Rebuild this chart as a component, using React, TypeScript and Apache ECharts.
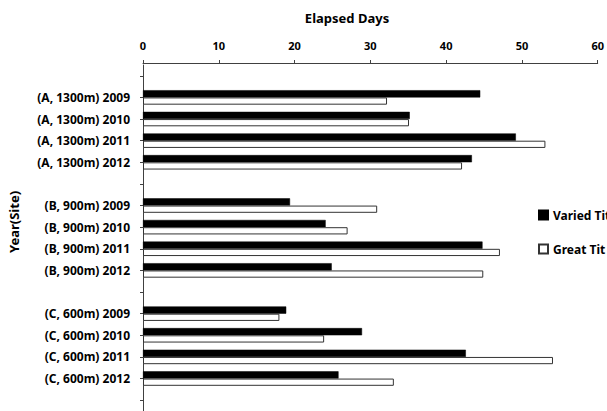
import React, { useEffect, useRef } from "react";
import * as echarts from "echarts";

const categories = [
  "",
  "(A, 1300m) 2009",
  "(A, 1300m) 2010",
  "(A, 1300m) 2011",
  "(A, 1300m) 2012",
  " ",
  "(B, 900m) 2009",
  "(B, 900m) 2010",
  "(B, 900m) 2011",
  "(B, 900m) 2012",
  "  ",
  "(C, 600m) 2009",
  "(C, 600m) 2010",
  "(C, 600m) 2011",
  "(C, 600m) 2012",
  "   ",
];

const variedTit = [null, 44.5, 35.2, 49.2, 43.4, null, 19.4, 24.1, 44.8, 24.9, null, 18.9, 28.9, 42.6, 25.8, null];
const greatTit = [null, 32.2, 35.1, 53.1, 42.1, null, 30.9, 27.0, 47.1, 44.9, null, 18.0, 23.9, 54.1, 33.1, null];

const xTicks = { min: 0, max: 60, interval: 10 };

const FONT = "'Noto Sans', 'DejaVu Sans', sans-serif";

export default function App() {
  const ref = useRef<HTMLDivElement>(null);
  useEffect(() => {
    if (!ref.current) return;
    const chart = echarts.init(ref.current, null, { renderer: "svg" });
    chart.setOption({
      animation: false,
      backgroundColor: "#ffffff",
      grid: { left: 143, right: 6, top: 65, bottom: -2, containLabel: false },
      legend: {
        orient: "vertical",
        left: 533,
        top: 204,
        itemWidth: 9,
        itemHeight: 9,
        itemGap: 22,
        icon: "rect",
        textStyle: { fontFamily: FONT, fontWeight: "bold", fontSize: 12, color: "#000" },
        data: ["Varied Tit", "Great Tit"],
      },
      graphic: [
        {
          type: "text",
          x: 347,
          y: 18,
          style: {
            text: "Elapsed Days",
            font: `bold 13px ${FONT}`,
            fill: "#000",
            textAlign: "center",
            textVerticalAlign: "middle",
          },
        },
        {
          type: "text",
          x: 14,
          y: 222,
          rotation: Math.PI / 2,
          style: {
            text: "Year(Site)",
            font: `bold 13px ${FONT}`,
            fill: "#000",
            textAlign: "center",
            textVerticalAlign: "middle",
          },
        },
      ],
      xAxis: {
        type: "value",
        position: "top",
        offset: 2,
        min: xTicks.min,
        max: xTicks.max,
        interval: xTicks.interval,
        splitLine: { show: false },
        axisLine: { show: true, lineStyle: { color: "#404040", width: 1 } },
        axisTick: { show: true, length: 3, lineStyle: { color: "#404040" } },
        axisLabel: {
          margin: 12,
          fontFamily: FONT,
          fontWeight: "bold",
          fontSize: 11,
          color: "#000",
        },
      },
      yAxis: {
        type: "category",
        inverse: true,
        data: categories,
        axisLine: { show: true, lineStyle: { color: "#404040", width: 1 } },
        axisTick: { show: true, alignWithLabel: true, length: 3, lineStyle: { color: "#404040" } },
        axisLabel: {
          margin: 13,
          interval: 0,
          fontFamily: FONT,
          fontWeight: "bold",
          fontSize: 12,
          color: "#000",
        },
      },
      series: [
        {
          name: "Varied Tit",
          type: "bar",
          data: variedTit,
          barGap: "0%",
          barCategoryGap: "33%",
          itemStyle: { color: "#000000", borderColor: "#000000", borderWidth: 0.5 },
        },
        {
          name: "Great Tit",
          type: "bar",
          data: greatTit,
          barGap: "0%",
          barCategoryGap: "33%",
          itemStyle: { color: "#ffffff", borderColor: "#333333", borderWidth: 1 },
        },
      ],
    });
    return () => chart.dispose();
  }, []);
  return <div ref={ref} style={{ width: 607, height: 411, position: "absolute", left: 0, top: 0 }} />;
}
